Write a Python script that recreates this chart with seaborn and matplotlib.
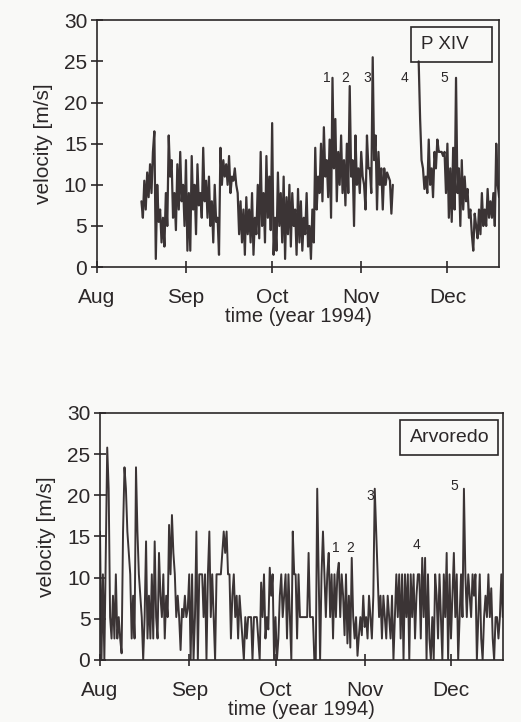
"""
wind velocity records P XIV and Arvoredo, Aug-Dec 1994
"""

import matplotlib
matplotlib.use('Agg')
import matplotlib.pyplot as plt
from matplotlib.patches import Rectangle
import pandas as pd
import seaborn as sns

# P XIV, values every 12 h (record has a gap in November)
pxiv_start_1 = '1994-08-16 12:00'
pxiv_vel_1 = [
    8,
    6, 10.5, 7, 11.5, 8.5, 12.5, 9, 14, 16.5, 1,
    10, 5.5, 7, 3, 6, 2.5, 9, 5, 16, 11,
    13, 6, 9, 4.5, 12.5, 7, 14, 8, 10, 5,
    13, 2, 9, 2, 13.5, 7, 10, 4, 12.5, 7.5,
    9, 6, 14.5, 8, 10.5, 6, 11, 5, 8, 3,
    10, 5.5, 6, 1.5, 14.5, 10, 13, 11, 12.5, 10,
    13.5, 9, 11, 10.5, 12, 10, 9, 4, 8, 3,
    7, 1.5, 8.5, 4, 7, 3, 9, 1.5, 6, 4,
    10, 3.5, 14, 5, 9, 3, 13.5, 6, 11, 4.5,
    17.5, 1.5, 6, 2, 11.5, 5, 9, 3, 11, 1,
    8.5, 4, 10, 2.5, 9, 5, 7, 1.5, 9.5, 3,
    8, 2, 6, 4, 9, 2.5, 5, 1, 7, 3,
    14.5, 7, 11, 9, 15, 8, 17, 11, 13, 8.5,
    15.5, 6, 23, 12, 18, 8, 14, 10, 16, 9,
    13, 7.5, 15, 9, 22, 11, 13, 5, 16, 10,
    12, 9, 14, 11, 10, 7, 16, 12, 12, 9,
    25.5, 13, 16, 7, 14, 10, 12, 7, 12, 10,
    11.5, 11, 10.5, 6.5, 10,
]
pxiv_start_2 = '1994-11-21 00:00'
pxiv_vel_2 = [
    25, 18, 13, 12, 9.5, 11, 9, 15.5, 10, 12,
    8.5, 14, 12, 15.5, 14, 14, 14, 13.5, 14, 9,
    15, 6, 12, 5.5, 14.5, 7, 23, 9, 12, 5,
    13, 7, 11, 8, 9.5, 6, 7, 4, 2, 6.5,
    5, 3.5, 7, 4, 9, 5, 7, 5, 9.5, 6,
    8, 6, 9, 5, 15, 10, 8.5,
]

# Arvoredo, values every 12 h
arv_start = '1994-08-01 00:00'
arv_vel = [
    15.6, 0, 10.4, 0, 13.0, 25.8, 20.8, 5.2, 2.6, 7.8,
    2.6, 10.4, 2.6, 5.2, 2.6, 0.8, 15.6, 23.4, 20.8, 15.6,
    13.0, 10.4, 2.6, 7.8, 2.6, 23.4, 15.6, 10.4, 7.8, 5.2,
    0, 5.2, 14.4, 2.6, 7.8, 2.6, 10.4, 2.6, 14.4, 5.2,
    2.6, 13.0, 7.8, 5.2, 10.4, 2.6, 7.8, 5.2, 16.4, 10.4,
    17.6, 13.0, 10.4, 5.2, 7.8, 5.2, 1.2, 6.2, 5.2, 7.8,
    5.2, 6.2, 10.4, 0, 10.4, 0, 5.2, 15.6, 0, 10.4,
    10.4, 10.4, 5.2, 10.4, 0, 10.4, 15.6, 5.2, 10.4, 5.2,
    0, 10.4, 10.4, 10.4, 10.4, 13.0, 15.6, 13.0, 15.6, 10.4,
    10.4, 2.6, 7.8, 10.4, 5.2, 7.8, 2.6, 7.8, 5.2, 2.6,
    0, 5.2, 2.6, 5.2, 5.2, 5.2, 0, 5.2, 5.2, 5.2,
    2.6, 0, 9.4, 5.2, 10.4, 2.6, 5.2, 3.7, 11.2, 7.8,
    10.4, 0, 5.2, 0, 2.6, 7.8, 10.4, 5.2, 7.8, 10.4,
    2.6, 10.4, 5.2, 0, 15.6, 10.4, 10.4, 2.6, 10.4, 5.2,
    5.2, 5.2, 5.2, 5.2, 5.2, 13.0, 5.2, 5.2, 5.2, 0,
    0, 20.8, 10.4, 0, 10.4, 15.6, 10.4, 5.2, 10.4, 13.0,
    5.2, 10.4, 2.6, 10.4, 5.2, 10.4, 11.8, 5.2, 10.4, 7.8,
    3.0, 10.4, 2.0, 7.8, 1.5, 12.4, 5.2, 2.6, 5.2, 0.5,
    3.0, 5.2, 3.0, 7.8, 4.0, 5.2, 2.6, 7.8, 5.2, 2.6,
    7.8, 20.8, 15.6, 10.4, 5.2, 7.8, 2.6, 7.8, 5.2, 2.6,
    7.8, 5.2, 2.6, 7.8, 0, 5.2, 10.4, 5.2, 10.4, 2.6,
    10.4, 0, 10.4, 5.2, 10.4, 0, 10.4, 5.2, 10.4, 2.6,
    7.8, 10.4, 10.4, 2.6, 12.4, 5.2, 12.4, 0, 10.4, 2.6,
    0, 5.2, 0, 10.4, 7.8, 2.6, 10.4, 5.2, 0, 10.4,
    5.2, 13.0, 0, 10.4, 2.6, 7.8, 13.0, 5.2, 10.4, 0,
    5.2, 10.4, 5.2, 20.8, 10.4, 5.2, 10.4, 7.8, 5.2, 10.4,
    7.8, 10.4, 0, 5.2, 10.4, 2.6, 0, 5.2, 7.8, 5.2,
    10.4, 5.2, 8.7, 2.6, 0, 5.2, 5.2, 2.6, 5.2, 10.4,
    5.2,
]

months = ['Aug', 'Sep', 'Oct', 'Nov', 'Dec']
month_starts = ['1994-08-01', '1994-09-01', '1994-10-01', '1994-11-01', '1994-12-01']
x_end = '1994-12-19'

# storm numbers
event_labels = ['1', '2', '3', '4', '5']
pxiv_event_dates = ['1994-10-20', '1994-10-26 12:00', '1994-11-03', '1994-11-16', '1994-11-30']
pxiv_event_y = [23, 23, 23, 23, 23]
arv_event_dates = ['1994-10-22', '1994-10-27', '1994-11-03', '1994-11-19', '1994-12-02']
arv_event_y = [13.6, 13.6, 19.9, 14.0, 21.1]

line_col = '#3b3435'
ink = '#2b2728'
paper = '#f9f9f7'

sns.set_style('ticks')
plt.rcParams['font.family'] = ['Liberation Sans', 'DejaVu Sans']


def series(start, values):
    t = pd.date_range(start, periods=len(values), freq='12h')
    return pd.DataFrame({'time': t, 'velocity': values})


def style_axis(ax, name, box):
    ax.set_facecolor(paper)
    ax.set_xlim(pd.Timestamp(month_starts[0]), pd.Timestamp(x_end))
    ax.set_ylim(0, 30)
    ax.set_yticks([0, 5, 10, 15, 20, 25, 30])
    ax.set_xticks(pd.to_datetime(month_starts))
    ax.set_xticklabels(months)
    ax.tick_params(axis='both', direction='inout', length=8, width=1.2,
                   colors=ink, labelsize=15, labelcolor=ink)
    ax.tick_params(axis='x', pad=11)
    ax.tick_params(axis='y', pad=3)
    for s in ax.spines.values():
        s.set_visible(True)
        s.set_color(ink)
        s.set_linewidth(1.2)
    ax.set_xlabel('time (year 1994)', fontsize=14.5, color=ink, labelpad=0)
    ax.set_ylabel('velocity [m/s]', fontsize=15, color=ink, labelpad=8)
    x0, y0, w, h, fs = box
    ax.add_patch(Rectangle((x0, y0), w, h, transform=ax.transAxes, fill=False,
                           edgecolor=ink, linewidth=1.2, zorder=5))
    ax.text(x0 + 0.025, y0 + h / 2, name, transform=ax.transAxes, ha='left',
            va='center', fontsize=fs, color=ink, zorder=6)


fig = plt.figure(figsize=(5.21, 7.22), dpi=100, facecolor=paper)

ax1 = fig.add_axes([0.186, 0.630, 0.772, 0.342])
for start, vals in [(pxiv_start_1, pxiv_vel_1), (pxiv_start_2, pxiv_vel_2)]:
    sns.lineplot(data=series(start, vals), x='time', y='velocity', ax=ax1,
                 color=line_col, linewidth=1.6)
style_axis(ax1, 'P XIV', (0.78, 0.83, 0.203, 0.142, 13.5))
for lab, d, y in zip(event_labels, pxiv_event_dates, pxiv_event_y):
    ax1.text(pd.Timestamp(d), y, lab, ha='center', va='center', fontsize=10, color=ink)

ax2 = fig.add_axes([0.192, 0.086, 0.773, 0.342])
sns.lineplot(data=series(arv_start, arv_vel), x='time', y='velocity', ax=ax2,
             color=line_col, linewidth=1.4)
style_axis(ax2, 'Arvoredo', (0.744, 0.83, 0.244, 0.142, 14))
for lab, d, y in zip(event_labels, arv_event_dates, arv_event_y):
    ax2.text(pd.Timestamp(d), y, lab, ha='center', va='center', fontsize=10, color=ink)

fig.savefig('out.png', dpi=100, facecolor=paper)
plt.close()
